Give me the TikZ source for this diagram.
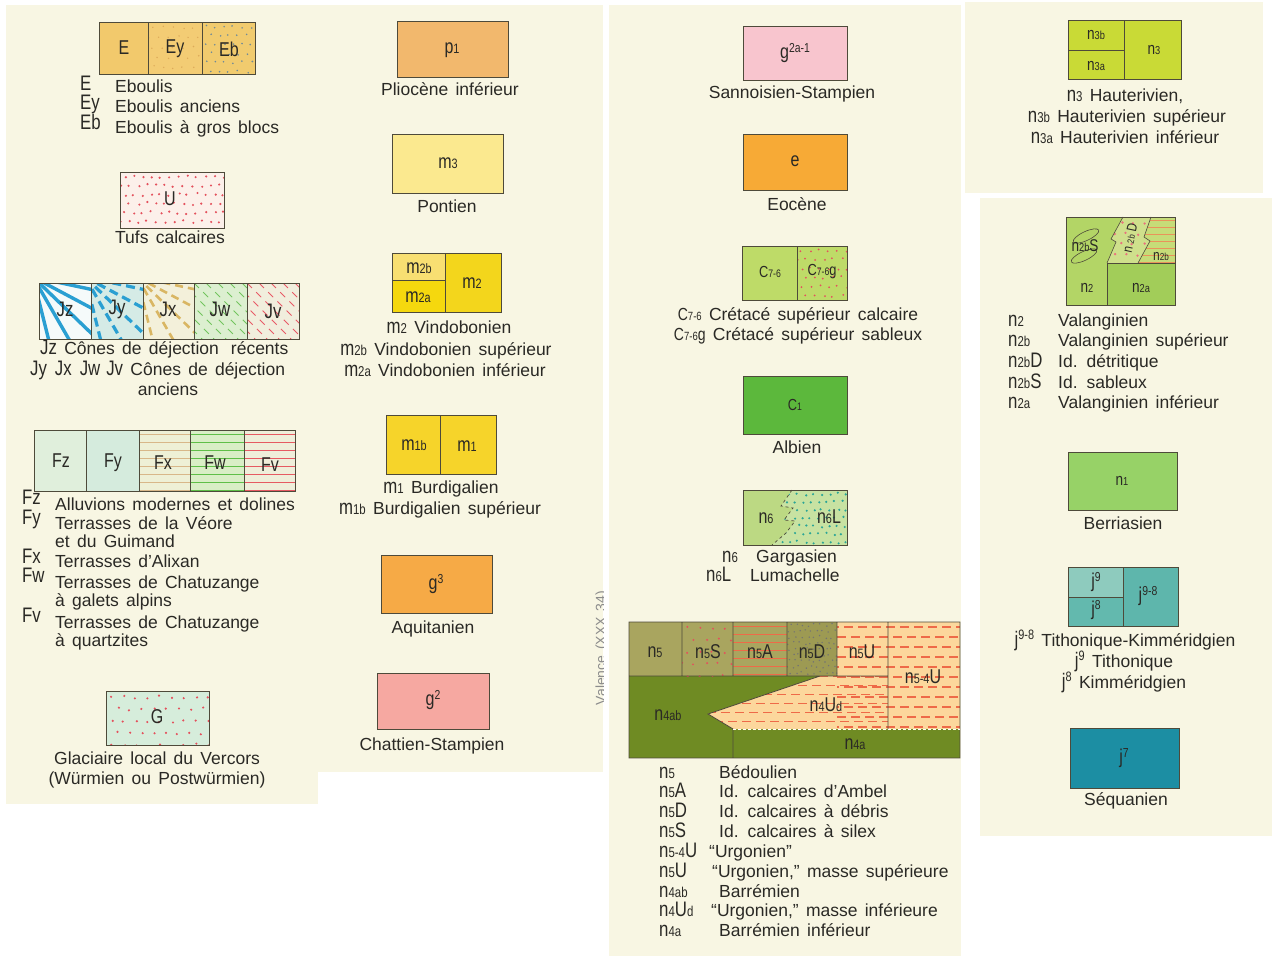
\documentclass[tikz,border=0pt]{standalone}
\usepackage{fontspec}
\setmainfont{Liberation Sans}[WordSpace=1.5]
\newfontfamily\geo{Liberation Sans}[FakeStretch=0.8]
\usetikzlibrary{calc}

\definecolor{paper}{HTML}{F8F6E3}
\definecolor{ink}{HTML}{2A2925}
\definecolor{rim}{HTML}{4E4A3A}
\definecolor{cE}{HTML}{F2C96C}
\definecolor{cEy}{HTML}{F3CC74}
\definecolor{cEb}{HTML}{F1CB6E}
\definecolor{dEy}{HTML}{DDAA5A}
\definecolor{dEb}{HTML}{6F8A98}
\definecolor{cU}{HTML}{FCF0EA}
\definecolor{dotred}{HTML}{E4505C}
\definecolor{cJz}{HTML}{F5FAFA}
\definecolor{cJy}{HTML}{D5EBE6}
\definecolor{cJx}{HTML}{F3F0DA}
\definecolor{cJw}{HTML}{DCEFD0}
\definecolor{cJv}{HTML}{F1EEDD}
\definecolor{rayblue}{HTML}{2A9FD2}
\definecolor{raytan}{HTML}{D9B663}
\definecolor{dashgreen}{HTML}{72C45E}
\definecolor{dashred}{HTML}{E85A66}
\definecolor{cFz}{HTML}{E0EFDC}
\definecolor{cFy}{HTML}{D5EBDD}
\definecolor{cFx}{HTML}{EEF0D6}
\definecolor{lineTan}{HTML}{D8B789}
\definecolor{cFw}{HTML}{D9EEC6}
\definecolor{lineGreen}{HTML}{5FBF48}
\definecolor{cFv}{HTML}{EFEEDA}
\definecolor{lineRed}{HTML}{E65A62}
\definecolor{cG}{HTML}{D6EDDB}
\definecolor{cPa}{HTML}{F2B86D}
\definecolor{cMc}{HTML}{FBE98F}
\definecolor{cMbb}{HTML}{F8DF72}
\definecolor{cMba}{HTML}{F5D80E}
\definecolor{cMb}{HTML}{F3D61C}
\definecolor{cMa}{HTML}{F6D42A}
\definecolor{cGc}{HTML}{F6AA46}
\definecolor{cGb}{HTML}{F6A8A1}
\definecolor{cGba}{HTML}{F8C5CE}
\definecolor{cEo}{HTML}{F7AA36}
\definecolor{cCs}{HTML}{BEDB68}
\definecolor{cCa}{HTML}{5CB83C}
\definecolor{cNf}{HTML}{BCD983}
\definecolor{cNfL}{HTML}{C8E2A2}
\definecolor{dotTeal}{HTML}{2AA596}
\definecolor{cNe}{HTML}{A9A55F}
\definecolor{cNeD}{HTML}{9D9A53}
\definecolor{cUrg}{HTML}{FCD79C}
\definecolor{dashOr}{HTML}{EE6A48}
\definecolor{cNd}{HTML}{6F8B23}
\definecolor{cNc}{HTML}{C9DA36}
\definecolor{cNb}{HTML}{B3D566}
\definecolor{cNba}{HTML}{A2CD59}
\definecolor{cNbD}{HTML}{CFE08C}
\definecolor{cNbb}{HTML}{C6DC78}
\definecolor{lineOr}{HTML}{E9935A}
\definecolor{cNa}{HTML}{97D267}
\definecolor{cJn}{HTML}{8ECBBE}
\definecolor{cJe}{HTML}{63B9AE}
\definecolor{cJne}{HTML}{5EB6AC}
\definecolor{cJs}{HTML}{1C8EA3}

\newcommand{\gf}{\geo\fontsize{21}{21}\selectfont}
\newcommand{\smlo}[1]{\scalebox{0.68}{#1}}
\newcommand{\smhi}[1]{\raisebox{0.6ex}{\scalebox{0.65}{#1}}}

% dots: [radius] x y width height colour step
\newcommand{\speckle}[7][1.2]{%
  \begin{scope}[shift={(#2,#3)}]
    \clip (0,0) rectangle (#4,#5);
    \foreach \yy [count=\r] in {0,#7,...,#5} {
      \foreach \xx in {0,#7,...,#4} {
        \pgfmathsetmacro{\spx}{\xx+mod(\r,2)*#7/2+1.5*rand}
        \pgfmathsetmacro{\spy}{\yy+#7/2+1.5*rand}
        \fill[#6] (\spx,\spy) circle (#1);
      }
    }
  \end{scope}}
% horizontal lines: x y width height style step
\newcommand{\hatch}[6]{%
  \begin{scope}[shift={(#1,#2)}]
    \clip (0,0) rectangle (#3,#4);
    \foreach \yy in {0,#6,...,#4}
      \draw[#5] (0,{\yy+#6/2}) -- (#3,{\yy+#6/2});
  \end{scope}}
% dashed horizontal lines, staggered
\newcommand{\dashhatch}[6]{%
  \begin{scope}[shift={(#1,#2)}]
    \clip (0,0) rectangle (#3,#4);
    \foreach \yy [count=\r] in {0,#6,...,#4} {
      \pgfmathsetmacro{\ph}{mod(\r,2)*7}
      \draw[#5, dash pattern=on 9pt off 5pt, dash phase=\ph pt] (0,{\yy+#6/2}) -- (#3,{\yy+#6/2});
    }
  \end{scope}}

\tikzset{
  legbox/.style={draw=rim, line width=0.8pt},
  boxlbl/.style={font=\geo\fontsize{20}{20}\selectfont, text=ink, inner sep=0pt},
  symb/.style={font=\gf, text=ink, anchor=mid west, inner sep=0pt},
  txt/.style={font=\fontsize{17.5}{20}\selectfont, text=ink, anchor=mid, inner sep=0pt},
  txtl/.style={txt, anchor=mid west},
}

\begin{document}
\begin{tikzpicture}[x=1pt,y=-1pt]
\pgfmathsetseed{7}
\useasboundingbox (0,0) rectangle (1277,956);
\fill[white] (0,0) rectangle (1277,956);

% paper panels
\fill[paper] (6,5) rectangle (318,804);
\fill[paper] (318,5) rectangle (603,772);
\fill[paper] (609,5) rectangle (961,956);
\fill[paper] (965,2) rectangle (1263,193);
\fill[paper] (980,198) rectangle (1272,836);

%%% column 1
% Eboulis
\fill[cE] (99,22) rectangle (148,74);
\fill[cEy] (148,22) rectangle (202,74);
\fill[cEb] (202,22) rectangle (255,74);
\speckle[0.8]{148}{22}{54}{52}{dEy}{10}
\speckle[0.9]{202}{22}{53}{52}{dEb}{9}
\draw[legbox] (99,22) rectangle (255,74) (148,22) -- (148,74) (202,22) -- (202,74);
\node[boxlbl] (bE) at (124,48) {E};
\node[boxlbl] (bEy) at (175,49) {Ey};
\node[boxlbl] (bEb) at (229,49) {Eb};
\node[symb] (sE) at (80,88) {E};
\node[symb] (sEy) at (80,107) {Ey};
\node[symb] (sEb) at (80,127) {Eb};
\node[txtl] (tE) at (115,90) {Eboulis};
\node[txtl] (tEy) at (115,110) {Eboulis anciens};
\node[txtl] (tEb) at (115,131) {Eboulis à gros blocs};

% Tufs
\fill[cU] (120,172) rectangle (224,228);
\speckle[1.2]{120}{172}{104}{56}{dotred}{9}
\draw[legbox] (120,172) rectangle (224,228);
\node[boxlbl] (bU) at (170,199) {U};
\node[txt] (tU) at (170,241) {Tufs calcaires};

% cones
\fill[cJz] (39,283) rectangle (91,339);
\fill[cJy] (91,283) rectangle (143,339);
\fill[cJx] (143,283) rectangle (194,339);
\fill[cJw] (194,283) rectangle (247,339);
\fill[cJv] (247,283) rectangle (299,339);
\begin{scope}
  \clip (39,283) rectangle (91,339);
  \foreach \a in {12,28,44,60,76}
    \draw[rayblue, line width=3.4pt] (33,277) -- ++(\a:100);
\end{scope}
\begin{scope}
  \clip (91,283) rectangle (143,339);
  \foreach \a in {12,28,44,60,76}
    \draw[rayblue, line width=3.2pt, dash pattern=on 9pt off 5pt] (85,277) -- ++(\a:100);
\end{scope}
\begin{scope}
  \clip (143,283) rectangle (194,339);
  \foreach \a in {12,28,44,60,76}
    \draw[raytan, line width=2.6pt, dash pattern=on 8pt off 5pt] (137,277) -- ++(\a:100);
\end{scope}
\begin{scope}
  \clip (194,283) rectangle (247,339);
  \foreach \k in {-60,-48,...,50}
    \draw[dashgreen, line width=0.9pt, dash pattern=on 7pt off 6pt] ({194+\k},283) -- ++(62,62);
\end{scope}
\begin{scope}
  \clip (247,283) rectangle (299,339);
  \foreach \k in {-60,-48,...,50}
    \draw[dashred, line width=0.9pt, dash pattern=on 7pt off 6pt] ({247+\k},283) -- ++(62,62);
\end{scope}
\draw[legbox] (39,283) rectangle (299,339) (91,283) -- (91,339) (143,283) -- (143,339)
  (194,283) -- (194,339) (247,283) -- (247,339);
\node[boxlbl, font=\gf] (bJz) at (65,309) {Jz};
\node[boxlbl, font=\gf] (bJy) at (117,309) {Jy};
\node[boxlbl, font=\gf] (bJx) at (168,309) {Jx};
\node[boxlbl, font=\gf] (bJw) at (220,309) {Jw};
\node[boxlbl, font=\gf] (bJv) at (273,311) {Jv};
\node[txtl] (tJz) at (40,352) {{\gf Jz} Cônes de déjection\hspace{12pt}récents};
\node[txtl] (tJy) at (30,373) {{\gf Jy\hspace{8pt}Jx\hspace{8pt}Jw\hspace{6pt}Jv} Cônes de déjection};
\node[txt] (tJy2) at (168,393) {anciens};

% alluvions
\fill[cFz] (34,430) rectangle (86,491);
\fill[cFy] (86,430) rectangle (139,491);
\fill[cFx] (139,430) rectangle (190,491);
\fill[cFw] (190,430) rectangle (244,491);
\fill[cFv] (244,430) rectangle (295,491);
\hatch{139}{430}{51}{61}{lineTan, line width=0.8pt}{8}
\hatch{190}{430}{54}{61}{lineGreen, line width=0.9pt}{8}
\hatch{244}{430}{51}{61}{lineRed, line width=0.9pt}{8}
\draw[legbox] (34,430) rectangle (295,491) (86,430) -- (86,491) (139,430) -- (139,491)
  (190,430) -- (190,491) (244,430) -- (244,491);
\node[boxlbl] (bFz) at (61,461) {Fz};
\node[boxlbl] (bFy) at (113,463) {Fy};
\node[boxlbl] (bFx) at (163,463) {Fx};
\node[boxlbl] (bFw) at (215,463) {Fw};
\node[boxlbl] (bFv) at (270,465) {Fv};
\node[symb] (sFz) at (22,502) {Fz};
\node[symb] (sFy) at (22,522) {Fy};
\node[symb] (sFx) at (22,561) {Fx};
\node[symb] (sFw) at (22,580) {Fw};
\node[symb] (sFv) at (22,620) {Fv};
\node[txtl] (tFz) at (55,508) {Alluvions modernes et dolines};
\node[txtl] (tFy) at (55,527) {Terrasses de la Véore};
\node[txtl] (tFy2) at (55,545) {et du Guimand};
\node[txtl] (tFx) at (55,565) {Terrasses d'Alixan};
\node[txtl] (tFw) at (55,586) {Terrasses de Chatuzange};
\node[txtl] (tFw2) at (55,604) {à galets alpins};
\node[txtl] (tFv) at (55,626) {Terrasses de Chatuzange};
\node[txtl] (tFv2) at (55,644) {à quartzites};

% glaciaire
\fill[cG] (106,691) rectangle (209,745);
\speckle[1.2]{106}{691}{103}{54}{dotred}{12}
\draw[legbox] (106,691) rectangle (209,745);
\node[boxlbl] (bG) at (157,717) {G};
\node[txt] (tG) at (157,762) {Glaciaire local du Vercors};
\node[txt] (tG2) at (157,782) {(Würmien ou Postwürmien)};

%%% column 2
\fill[cPa] (397,21) rectangle (508,77);
\draw[legbox] (397,21) rectangle (508,77);
\node[boxlbl] (bP) at (452,50) {p\smlo{1}};
\node[txt] (tP) at (450,93) {Pliocène inférieur};

\fill[cMc] (392,134) rectangle (503,193);
\draw[legbox] (392,134) rectangle (503,193);
\node[boxlbl] (bMc) at (448,163) {m\smlo{3}};
\node[txt] (tMc) at (447,210) {Pontien};

\fill[cMb] (392,253) rectangle (501,312);
\fill[cMbb] (392,253) rectangle (445,280);
\fill[cMba] (392,280) rectangle (445,312);
\draw[legbox] (392,253) rectangle (501,312) (445,253) -- (445,312) (392,280) -- (445,280);
\node[boxlbl] (bMbb) at (419,268) {m\smlo{2b}};
\node[boxlbl] (bMba) at (418,297) {m\smlo{2a}};
\node[boxlbl] (bMb) at (472,283) {m\smlo{2}};
\node[txt] (tMb) at (449,331) {{\gf m\smlo{2}} Vindobonien};
\node[txt] (tMbb) at (446,353) {{\gf m\smlo{2b}} Vindobonien supérieur};
\node[txt] (tMba) at (445,374) {{\gf m\smlo{2a}} Vindobonien inférieur};

\fill[cMa] (386,415) rectangle (496,474);
\draw[legbox] (386,415) rectangle (496,474) (440,415) -- (440,474);
\node[boxlbl] (bMab) at (414,445) {m\smlo{1b}};
\node[boxlbl] (bMa) at (467,446) {m\smlo{1}};
\node[txt] (tMa) at (441,491) {{\gf m\smlo{1}} Burdigalien};
\node[txt] (tMab) at (440,512) {{\gf m\smlo{1b}} Burdigalien supérieur};

\fill[cGc] (381,555) rectangle (492,613);
\draw[legbox] (381,555) rectangle (492,613);
\node[boxlbl] (bGc) at (436,584) {g\smhi{3}};
\node[txt] (tGc) at (433,631) {Aquitanien};

\fill[cGb] (377,673) rectangle (489,729);
\draw[legbox] (377,673) rectangle (489,729);
\node[boxlbl] (bGb) at (433,700) {g\smhi{2}};
\node[txt] (tGb) at (432,748) {Chattien-Stampien};

\begin{scope}
  \clip (560,560) rectangle (603,740);
  \node[font=\fontsize{14}{14}\selectfont, text=black!45, rotate=90, inner sep=0pt] (val) at (602,648) {Valence (XXX 34)};
\end{scope}

%%% column 3
\fill[cGba] (743,26) rectangle (847,80);
\draw[legbox] (743,26) rectangle (847,80);
\node[boxlbl] (bGba) at (795,53) {g\smhi{2a-1}};
\node[txt] (tGba) at (792,96) {Sannoisien-Stampien};

\fill[cEo] (743,134) rectangle (847,190);
\draw[legbox] (743,134) rectangle (847,190);
\node[boxlbl] (bEo) at (795,161) {e};
\node[txt] (tEo) at (797,208) {Eocène};

\fill[cCs] (742,246) rectangle (847,300);
\speckle[1.0]{797}{246}{50}{54}{dotred}{9}
\draw[legbox] (742,246) rectangle (847,300) (797,246) -- (797,300);
\node[boxlbl, font=\geo\fontsize{16}{16}\selectfont] (bCs) at (770,272) {C\smlo{7-6}};
\node[boxlbl, font=\geo\fontsize{16}{16}\selectfont] (bCsg) at (822,272) {C\smlo{7-6}g};
\node[txt] (tCs) at (798,318) {{\geo C\smlo{7-6}} Crétacé supérieur calcaire};
\node[txt] (tCsg) at (798,338) {{\geo C\smlo{7-6}g} Crétacé supérieur sableux};

\fill[cCa] (743,376) rectangle (847,434);
\draw[legbox] (743,376) rectangle (847,434);
\node[boxlbl, font=\geo\fontsize{16}{16}\selectfont] (bCa) at (795,405) {C\smlo{1}};
\node[txt] (tCa) at (797,451) {Albien};

\fill[cNf] (743,490) rectangle (847,545);
\begin{scope}
  \clip (792,490) -- (781,506) -- (793,508) -- (784,520) -- (795,521) -- (786,533) -- (772,545)
    -- (847,545) -- (847,490) -- cycle;
  \fill[cNfL] (743,490) rectangle (847,545);
  \speckle[1.2]{770}{490}{77}{55}{dotTeal}{8}
\end{scope}
\draw[rim, line width=0.7pt, dashed] (792,490) -- (781,506) -- (793,508) -- (784,520) -- (795,521) -- (786,533) -- (772,545);
\draw[legbox] (743,490) rectangle (847,545);
\node[boxlbl] (bNf) at (766,518) {n\smlo{6}};
\node[boxlbl] (bNfL) at (829,517) {n\smlo{6}L};
\node[symb] (sNf) at (722,560) {n\smlo{6}};
\node[txtl] (tNf) at (756,560) {Gargasien};
\node[symb] (sNfL) at (706,579) {n\smlo{6}L};
\node[txtl] (tNfL) at (750,579) {Lumachelle};

% Bedoulien / Barremien block
\fill[cNd] (629,622) rectangle (960,758);
\fill[cNe] (629,622) rectangle (787,676);
\fill[cNeD] (787,622) rectangle (837,676);
\fill[cUrg] (837,622) rectangle (888,676);
\fill[cUrg] (888,622) rectangle (960,729);
\fill[cUrg] (820,676) -- (888,676) -- (888,729) -- (733,729) -- (708,714) -- cycle;
\speckle[1.1]{682}{622}{51}{54}{dotred}{12}
\hatch{733}{622}{54}{54}{dashOr, line width=1pt}{8}
\speckle[0.8]{787}{622}{50}{54}{black!55}{6}
\dashhatch{837}{622}{123}{107}{dashOr, line width=1.3pt}{10}
\begin{scope}
  \clip (820,676) -- (888,676) -- (888,729) -- (733,729) -- (708,714) -- cycle;
  \dashhatch{700}{672}{188}{57}{dashOr, line width=1.3pt}{9}
\end{scope}
\draw[legbox] (629,622) rectangle (960,758)
  (682,622) -- (682,676) (733,622) -- (733,676) (787,622) -- (787,676) (837,622) -- (837,676)
  (888,622) -- (888,729) (629,676) -- (888,676)
  (820,676) -- (708,714) -- (733,729) -- (733,758);
\draw[white, line width=1pt, dash pattern=on 3pt off 2pt] (733,729) -- (960,729);
\node[boxlbl] (bNe) at (655,652) {n\smlo{5}};
\node[boxlbl] (bNeS) at (708,652) {n\smlo{5}S};
\node[boxlbl] (bNeA) at (760,652) {n\smlo{5}A};
\node[boxlbl] (bNeD) at (812,652) {n\smlo{5}D};
\node[boxlbl] (bNeU) at (862,652) {n\smlo{5}U};
\node[boxlbl] (bNed) at (923,677) {n\smlo{5-4}U};
\node[boxlbl] (bNdU) at (826,705) {n\smlo{4}U\smlo{d}};
\node[boxlbl] (bNdab) at (668,715) {n\smlo{4ab}};
\node[boxlbl] (bNda) at (855,744) {n\smlo{4a}};
\node[symb] (sNe) at (659,776) {n\smlo{5}};
\node[symb] (sNeA) at (659,795) {n\smlo{5}A};
\node[symb] (sNeD) at (659,815) {n\smlo{5}D};
\node[symb] (sNeS) at (659,835) {n\smlo{5}S};
\node[symb] (sNed) at (659,855) {n\smlo{5-4}U};
\node[symb] (sNeU) at (659,875) {n\smlo{5}U};
\node[symb] (sNdab) at (659,895) {n\smlo{4ab}};
\node[symb] (sNdU) at (659,914) {n\smlo{4}U\smlo{d}};
\node[symb] (sNda) at (659,934) {n\smlo{4a}};
\node[txtl] (tNe) at (719,776) {Bédoulien};
\node[txtl] (tNeA) at (719,795) {Id. calcaires d'Ambel};
\node[txtl] (tNeD) at (719,815) {Id. calcaires à débris};
\node[txtl] (tNeS) at (719,835) {Id. calcaires à silex};
\node[txtl] (tNed) at (709,855) {``Urgonien''};
\node[txtl] (tNeU) at (712,875) {``Urgonien,'' masse supérieure};
\node[txtl] (tNdab) at (719,895) {Barrémien};
\node[txtl] (tNdU) at (711,914) {``Urgonien,'' masse inférieure};
\node[txtl] (tNda) at (719,934) {Barrémien inférieur};

%%% column 4
\fill[cNc] (1068,20) rectangle (1181,79);
\draw[legbox] (1068,20) rectangle (1181,79) (1124,20) -- (1124,79) (1068,50) -- (1124,50);
\node[boxlbl, font=\geo\fontsize{17}{17}\selectfont] (bNcb) at (1096,35) {n\smlo{3b}};
\node[boxlbl, font=\geo\fontsize{17}{17}\selectfont] (bNca) at (1096,66) {n\smlo{3a}};
\node[boxlbl, font=\geo\fontsize{17}{17}\selectfont] (bNc) at (1154,50) {n\smlo{3}};
\node[txt] (tNc) at (1125,99) {{\gf n\smlo{3}} Hauterivien,};
\node[txt] (tNcb) at (1127,120) {{\gf n\smlo{3b}} Hauterivien supérieur};
\node[txt] (tNca) at (1125,141) {{\gf n\smlo{3a}} Hauterivien inférieur};

% Valanginien
\fill[cNb] (1066,217) rectangle (1175,305);
\fill[cNba] (1107,263) rectangle (1175,305);
\begin{scope}
  \clip (1151,217) -- (1175,217) -- (1175,263) -- (1138,263) -- (1150,241) -- (1144,237) -- cycle;
  \fill[cNbb] (1138,217) rectangle (1175,263);
  \hatch{1138}{217}{37}{46}{lineOr, line width=1pt}{7}
\end{scope}
\begin{scope}
  \clip (1107,263) -- (1116,242) -- (1111,239) -- (1123,217) -- (1151,217) -- (1144,237)
    -- (1150,241) -- (1138,263) -- cycle;
  \fill[cNbD] (1105,217) rectangle (1152,263);
  \speckle[1.3]{1105}{217}{47}{46}{dotred!80}{11}
\end{scope}
\draw[legbox] (1066,217) rectangle (1175,305) (1107,305) -- (1107,263) -- (1175,263);
\draw[rim, line width=0.6pt] (1107,263) -- (1116,242) -- (1111,239) -- (1123,217)
  (1151,217) -- (1144,237) -- (1150,241) -- (1138,263);
\draw[rim, line width=0.6pt] (1086,236) ellipse [x radius=14, y radius=4.5, rotate=25];
\draw[rim, line width=0.6pt] (1084,256) ellipse [x radius=14, y radius=4.5, rotate=25];
\node[boxlbl, font=\geo\fontsize{17}{17}\selectfont] (bNbS) at (1085,246) {n\smlo{2b}S};
\node[boxlbl, font=\geo\fontsize{14}{14}\selectfont, rotate=78] (bNbD) at (1130,238) {n\kern3pt\smlo{2b}\kern3pt D};
\node[boxlbl, font=\geo\fontsize{15}{15}\selectfont] (bNbb) at (1161,257) {n\smlo{2b}};
\node[boxlbl, font=\geo\fontsize{17}{17}\selectfont] (bNb) at (1087,288) {n\smlo{2}};
\node[boxlbl, font=\geo\fontsize{17}{17}\selectfont] (bNba) at (1141,288) {n\smlo{2a}};
\node[symb] (sNb) at (1008,324) {n\smlo{2}};
\node[symb] (sNbb) at (1008,344) {n\smlo{2b}};
\node[symb] (sNbD) at (1008,365) {n\smlo{2b}D};
\node[symb] (sNbS) at (1008,386) {n\smlo{2b}S};
\node[symb] (sNba) at (1008,406) {n\smlo{2a}};
\node[txtl] (tNb) at (1058,324) {Valanginien};
\node[txtl] (tNbb) at (1058,344) {Valanginien supérieur};
\node[txtl] (tNbD) at (1058,365) {Id. détritique};
\node[txtl] (tNbS) at (1058,386) {Id. sableux};
\node[txtl] (tNba) at (1058,406) {Valanginien inférieur};

\fill[cNa] (1068,452) rectangle (1177,510);
\draw[legbox] (1068,452) rectangle (1177,510);
\node[boxlbl, font=\geo\fontsize{17}{17}\selectfont] (bNa) at (1122,481) {n\smlo{1}};
\node[txt] (tNa) at (1123,527) {Berriasien};

\fill[cJne] (1068,567) rectangle (1178,626);
\fill[cJn] (1068,567) rectangle (1123,597);
\fill[cJe] (1068,597) rectangle (1123,626);
\draw[legbox] (1068,567) rectangle (1178,626) (1123,567) -- (1123,626) (1068,597) -- (1123,597);
\node[boxlbl] (bJn) at (1096,582) {j\smhi{9}};
\node[boxlbl] (bJe) at (1096,610) {j\smhi{8}};
\node[boxlbl] (bJne) at (1148,596) {j\smhi{9-8}};
\node[txt] (tJne) at (1125,644) {{\gf j\smhi{9-8}} Tithonique-Kimméridgien};
\node[txt] (tJn) at (1124,665) {{\gf j\smhi{9}} Tithonique};
\node[txt] (tJe) at (1124,686) {{\gf j\smhi{8}} Kimméridgien};

\fill[cJs] (1070,728) rectangle (1179,788);
\draw[legbox] (1070,728) rectangle (1179,788);
\node[boxlbl] (bJs) at (1124,758) {j\smhi{7}};
\node[txt] (tJs) at (1126,803) {Séquanien};
\end{tikzpicture}
\end{document}
